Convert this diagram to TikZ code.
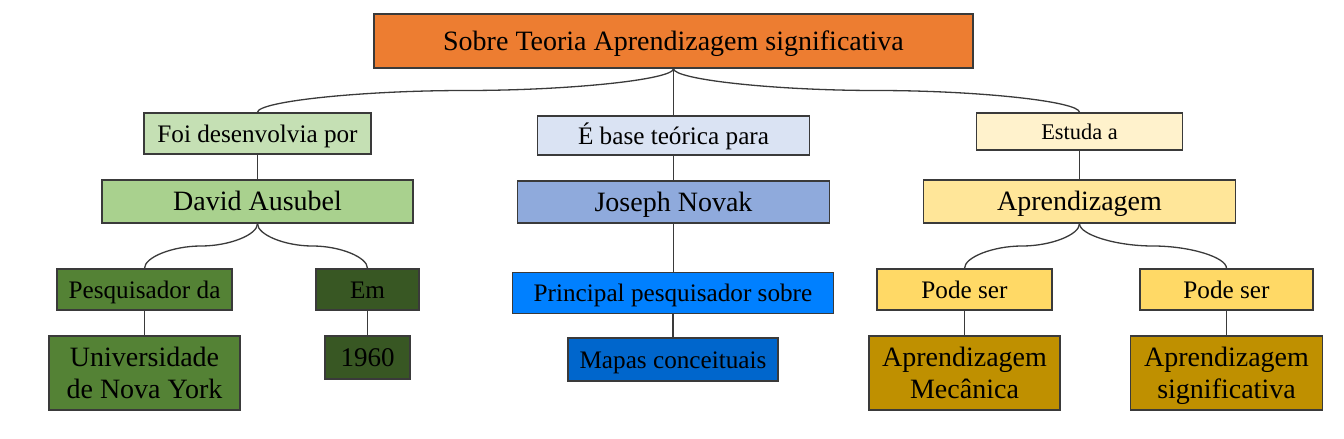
\documentclass[tikz,border=0pt]{standalone}
\usepackage{fontspec}
\setmainfont{Liberation Serif}
\usetikzlibrary{calc}
\definecolor{cOrange}{HTML}{ED7D31}
\definecolor{cGreenA}{HTML}{C5E0B4}
\definecolor{cGreenB}{HTML}{A9D18E}
\definecolor{cGreenC}{HTML}{548235}
\definecolor{cGreenD}{HTML}{385723}
\definecolor{cBlueA}{HTML}{DAE3F3}
\definecolor{cBlueB}{HTML}{8FAADC}
\definecolor{cBlueC}{HTML}{0080FF}
\definecolor{cBlueD}{HTML}{0066CC}
\definecolor{cGoldA}{HTML}{FFF2CC}
\definecolor{cGoldB}{HTML}{FFE699}
\definecolor{cGoldC}{HTML}{FFD966}
\definecolor{cGoldD}{HTML}{BF9000}
\definecolor{cLine}{HTML}{3A3A3A}
\newcommand\ptstrut{\rule[-0.216em]{0pt}{1.107em}}
\tikzset{
  box/.style={draw=cLine, line width=0.65pt, rectangle, inner sep=0pt, text=black, execute at begin node=\ptstrut},
  twoline/.style={align=center},
  mainfont/.style={font=\fontsize{14}{16}\selectfont},
  labfont/.style={font=\fontsize{12.6}{14.5}\selectfont},
  smallfont/.style={font=\fontsize{11.2}{13}\selectfont},
  conn/.style={draw=cLine, line width=0.65pt},
}
\newcommand\elbowconn[2]{%
  \draw[conn] let \p1=(#1), \p2=(#2) in
    (\p1) .. controls (\x1,{(3*\y1+\y2)/4}) and ({(3*\x1+\x2)/4},{(\y1+\y2)/2}) ..
    ({(\x1+\x2)/2},{(\y1+\y2)/2}) .. controls ({(\x1+3*\x2)/4},{(\y1+\y2)/2}) and (\x2,{(\y1+3*\y2)/4}) .. (\p2);}
\newcommand\vconn[2]{\draw[conn] (#1) -- (#1 |- #2);}
\begin{document}
\begin{tikzpicture}[x=0.5pt,y=-0.5pt]
\useasboundingbox (0,0) rectangle (1344,439);
% top
\node[box, fill=cOrange, mainfont, minimum width=299.5pt, minimum height=27pt] (top) at (673.5,41) {Sobre Teoria Aprendizagem significativa};
% left branch
\node[box, fill=cGreenA, labfont, minimum width=113.5pt, minimum height=20.5pt] (foi) at (257.5,133.5) {Foi desenvolvia por};
\node[box, fill=cGreenB, mainfont, minimum width=155.5pt, minimum height=21.5pt] (david) at (257.5,201.5) {David Ausubel};
\node[box, fill=cGreenC, labfont, minimum width=87.5pt, minimum height=20.5pt] (pesq) at (144.5,289.5) {Pesquisador da};
\node[box, fill=cGreenD, labfont, minimum width=51.5pt, minimum height=20.5pt] (em) at (367.5,289.5) {Em};
\node[box, twoline, fill=cGreenC, mainfont, minimum width=95.5pt, minimum height=37pt] (univ) at (144.5,373) {Universidade\ptstrut\\de Nova York\ptstrut};
\node[box, fill=cGreenD, font=\fontsize{13.5}{15}\selectfont, minimum width=42.5pt, minimum height=21.5pt] (ano) at (367.5,357.5) {1960};
% middle branch
\node[box, fill=cBlueA, labfont, minimum width=136pt, minimum height=19.5pt] (base) at (673.5,135.5) {É base teórica para};
\node[box, fill=cBlueB, mainfont, minimum width=156pt, minimum height=21pt] (joseph) at (673.5,202) {Joseph Novak};
\node[box, fill=cBlueC, labfont, minimum width=160.5pt, minimum height=20.5pt] (principal) at (673,293) {Principal pesquisador sobre};
\node[box, fill=cBlueD, labfont, minimum width=105pt, minimum height=21.5pt] (mapas) at (673,359.5) {Mapas conceituais};
% right branch
\node[box, fill=cGoldA, smallfont, minimum width=103pt, minimum height=18.5pt] (estuda) at (1079.5,131.5) {Estuda a};
\node[box, fill=cGoldB, mainfont, minimum width=156pt, minimum height=21.5pt] (aprend) at (1079.5,201.5) {Aprendizagem};
\node[box, fill=cGoldC, labfont, minimum width=87.5pt, minimum height=20.5pt] (podeA) at (964.5,289.5) {Pode ser};
\node[box, fill=cGoldC, labfont, minimum width=86.5pt, minimum height=20.5pt] (podeB) at (1226.5,289.5) {Pode ser};
\node[box, twoline, fill=cGoldD, mainfont, minimum width=95.5pt, minimum height=37pt] (mec) at (964.5,373) {Aprendizagem\ptstrut\\Mecânica\ptstrut};
\node[box, twoline, fill=cGoldD, mainfont, minimum width=96pt, minimum height=37pt] (sig) at (1226.5,373) {Aprendizagem\ptstrut\\significativa\ptstrut};
% connectors
\elbowconn{top.south}{foi.north}
\elbowconn{top.south}{estuda.north}
\vconn{top.south}{base.north}
\vconn{foi.south}{david.north}
\elbowconn{david.south}{pesq.north}
\elbowconn{david.south}{em.north}
\vconn{pesq.south}{univ.north}
\vconn{em.south}{ano.north}
\vconn{base.south}{joseph.north}
\vconn{joseph.south}{principal.north}
\vconn{principal.south}{mapas.north}
\vconn{estuda.south}{aprend.north}
\elbowconn{aprend.south}{podeA.north}
\elbowconn{aprend.south}{podeB.north}
\vconn{podeA.south}{mec.north}
\vconn{podeB.south}{sig.north}
\end{tikzpicture}
\end{document}
